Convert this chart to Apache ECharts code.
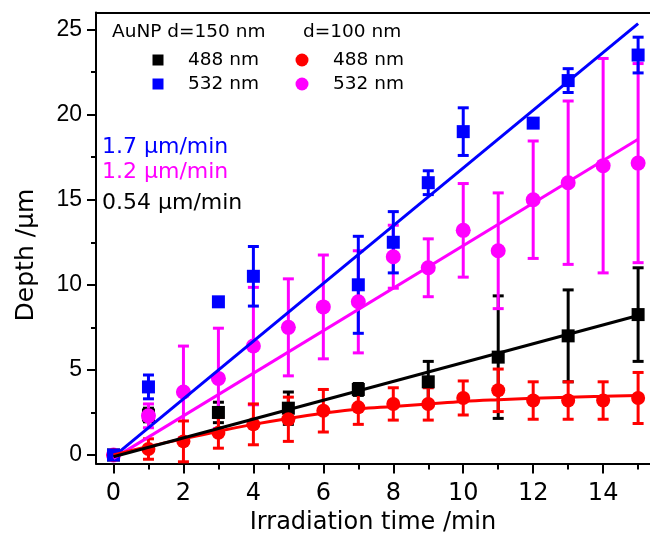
<!DOCTYPE html>
<html>
<head>
<meta charset="utf-8">
<script src="https://cdn.jsdelivr.net/npm/echarts@6/dist/echarts.min.js"></script>
<style>html,body{margin:0;padding:0;background:#fff;}#c{width:650px;height:542px;}</style>
</head>
<body>
<div id="c"></div>
<script>
// ---- data ----
const xTickLabels = [0, 2, 4, 6, 8, 10, 12, 14];
const xMinorTicks = [1, 3, 5, 7, 9, 11, 13, 15];
const yTickLabels = [0, 5, 10, 15, 20, 25];
const yMinorTicks = [2.5, 7.5, 12.5, 17.5, 22.5];

// AuNP d=150 nm, 488 nm (black squares)
const tBlack = [0, 1, 3, 5, 7, 9, 11, 13, 15];
const vBlack = [0, 2.35, 2.5, 2.75, 3.85, 4.3, 5.75, 7.0, 8.25];
const eBlack = [0, 0.4, 0.6, 0.95, 0.35, 1.2, 3.6, 2.7, 2.75];
// AuNP d=150 nm, 532 nm (blue squares)
const tBlue = [0, 1, 3, 4, 7, 8, 9, 10, 12, 13, 15];
const vBlue = [0, 4.0, 9.0, 10.5, 10.0, 12.5, 16.0, 19.0, 19.5, 22.0, 23.5];
const eBlue = [0, 0.7, 0, 1.75, 2.85, 1.8, 0.7, 1.4, 0, 0.7, 1.05];
// d=100 nm, 488 nm (red circles)
const tRed = [0, 1, 2, 3, 4, 5, 6, 7, 8, 9, 10, 11, 12, 13, 14, 15];
const vRed = [0, 0.35, 0.8, 1.3, 1.8, 2.1, 2.6, 2.8, 3.0, 3.0, 3.35, 3.8, 3.2, 3.2, 3.2, 3.35];
const eRed = [0, 0.6, 1.2, 0.9, 1.2, 1.3, 1.25, 1.0, 0.95, 0.95, 1.0, 1.25, 1.1, 1.1, 1.1, 1.5];
// d=100 nm, 532 nm (magenta circles)
const tMag = [0, 1, 2, 3, 4, 5, 6, 7, 8, 9, 10, 11, 12, 13, 14, 15];
const vMag = [0, 2.3, 3.7, 4.5, 6.4, 7.5, 8.7, 9.0, 11.65, 11.0, 13.2, 12.0, 15.0, 16.0, 17.0, 17.15];
const eMag = [0, 0.7, 2.7, 2.95, 3.45, 2.85, 3.05, 3.0, 1.85, 1.7, 2.75, 3.4, 3.45, 4.8, 6.3, 5.85];

// fitted lines (end points / curve points)
const fitBlueT = [0, 15], fitBlueV = [-0.1, 25.35];
const fitMagT = [0, 15], fitMagV = [-0.2, 18.55];
const fitBlackT = [0, 15], fitBlackV = [-0.1, 8.2];
const fitRedT = [0, 1, 2, 3, 4, 5, 6, 7, 8, 9, 10, 11, 12, 13, 14, 15];
const fitRedV = [0, 0.5, 0.95, 1.4, 1.8, 2.15, 2.45, 2.7, 2.85, 3.0, 3.15, 3.25, 3.33, 3.4, 3.45, 3.5];

const rateLabels = ['1.7 μm/min', '1.2 μm/min', '0.54 μm/min'];

// ---- chart ----
const BLACK = '#000000', BLUE = '#0000ff', RED = '#ff0000', MAG = '#ff00ff';
const XMIN = -0.5, XMAX = 15.34, YMIN = -0.5, YMAX = 26;
const zip = (a, b) => a.map((x, i) => [x, b[i]]);
const zip3 = (a, b, c) => a.map((x, i) => [x, b[i], c[i]]);

function errRender(color) {
  return function (params, api) {
    const x = api.value(0), y = api.value(1), e = api.value(2);
    if (!e) return null;
    const top = api.coord([x, y + e]);
    const bot = api.coord([x, y - e]);
    const w = 5.5;
    const st = { stroke: color, lineWidth: 3 };
    return {
      type: 'group',
      children: [
        { type: 'line', shape: { x1: top[0], y1: top[1], x2: bot[0], y2: bot[1] }, style: st },
        { type: 'line', shape: { x1: top[0] - w, y1: top[1], x2: top[0] + w, y2: top[1] }, style: st },
        { type: 'line', shape: { x1: bot[0] - w, y1: bot[1], x2: bot[0] + w, y2: bot[1] }, style: st }
      ]
    };
  };
}
function errSeries(t, v, e, color) {
  return {
    type: 'custom', xAxisIndex: 0, yAxisIndex: 0,
    renderItem: errRender(color), data: zip3(t, v, e),
    encode: { x: 0, y: 1 }, silent: true, clip: false
  };
}
function markSeries(t, v, color, symbol, size) {
  return {
    type: 'scatter', xAxisIndex: 0, yAxisIndex: 0, data: zip(t, v),
    symbol: symbol, symbolSize: size, itemStyle: { color: color, opacity: 1 }, silent: true
  };
}
function fitSeries(t, v, color, smooth) {
  return {
    type: 'line', xAxisIndex: 0, yAxisIndex: 0, data: zip(t, v), smooth: smooth ? 0.4 : false,
    showSymbol: false, symbol: 'none', lineStyle: { color: color, width: 3 }, silent: true
  };
}

const axisLineStyle = { color: '#000', width: 2 };
const gridBox = { left: 96, right: 0, top: 12.5, bottom: 78.5 };

const option = {
  animation: false,
  backgroundColor: '#fff',
  grid: [
    Object.assign({ containLabel: false }, gridBox),
    Object.assign({ containLabel: false }, gridBox)
  ],
  xAxis: [
    {
      gridIndex: 0, type: 'value', min: XMIN, max: XMAX, position: 'bottom',
      axisLine: { show: true, onZero: false, lineStyle: axisLineStyle },
      axisTick: { show: true, inside: false, length: 10, customValues: xTickLabels, lineStyle: { color: '#000', width: 2 } },
      axisLabel: { show: true, customValues: xTickLabels, fontSize: 24, color: '#000', fontFamily: 'DejaVu Sans', margin: 18 },
      splitLine: { show: false },
      name: 'Irradiation time /min', nameLocation: 'middle', nameGap: 47,
      nameTextStyle: { fontSize: 24, color: '#000', fontFamily: 'DejaVu Sans' }
    },
    {
      gridIndex: 0, type: 'value', min: XMIN, max: XMAX, position: 'top',
      axisLine: { show: true, onZero: false, lineStyle: axisLineStyle },
      axisTick: { show: false }, axisLabel: { show: false }, splitLine: { show: false }
    },
    {
      gridIndex: 1, type: 'value', min: XMIN, max: XMAX, position: 'bottom',
      axisLine: { show: false, onZero: false },
      axisTick: { show: true, inside: false, length: 6, customValues: xMinorTicks, lineStyle: { color: '#000', width: 2 } },
      axisLabel: { show: false }, splitLine: { show: false }
    }
  ],
  yAxis: [
    {
      gridIndex: 0, type: 'value', min: YMIN, max: YMAX, position: 'left',
      axisLine: { show: true, onZero: false, lineStyle: axisLineStyle },
      axisTick: { show: true, inside: false, length: 9, customValues: yTickLabels, lineStyle: { color: '#000', width: 2 } },
      axisLabel: { show: true, customValues: yTickLabels, fontSize: 23, color: '#000', fontFamily: 'Liberation Sans', margin: 14 },
      splitLine: { show: false }
    },
    {
      gridIndex: 1, type: 'value', min: YMIN, max: YMAX, position: 'left',
      axisLine: { show: false, onZero: false },
      axisTick: { show: true, inside: false, length: 5, customValues: yMinorTicks, lineStyle: { color: '#000', width: 2 } },
      axisLabel: { show: false }, splitLine: { show: false }
    }
  ],
  series: [
    errSeries(tBlack, vBlack, eBlack, BLACK),
    markSeries(tBlack, vBlack, BLACK, 'rect', 13),
    errSeries(tMag, vMag, eMag, MAG),
    markSeries(tMag, vMag, MAG, 'circle', 15),
    errSeries(tRed, vRed, eRed, RED),
    markSeries(tRed, vRed, RED, 'circle', 14),
    errSeries(tBlue, vBlue, eBlue, BLUE),
    markSeries(tBlue, vBlue, BLUE, 'rect', 13),
    fitSeries(fitMagT, fitMagV, MAG, false),
    fitSeries(fitBlueT, fitBlueV, BLUE, false),
    fitSeries(fitRedT, fitRedV, RED, true),
    fitSeries(fitBlackT, fitBlackV, BLACK, false)
  ],
  graphic: [
    { type: 'text', x: 26, y: 255, rotation: Math.PI / 2,
      style: { text: 'Depth /μm', fill: '#000', font: '25px "DejaVu Sans"', align: 'center', verticalAlign: 'middle', textAlign: 'center', textVerticalAlign: 'middle' } },
    { type: 'text', left: 112, top: 23, style: { text: 'AuNP d=150 nm', fill: '#000', font: '18.5px "DejaVu Sans"' } },
    { type: 'text', left: 303, top: 23, style: { text: 'd=100 nm', fill: '#000', font: '18.5px "DejaVu Sans"' } },
    { type: 'rect', shape: { x: 152.5, y: 54.5, width: 11, height: 11 }, style: { fill: BLACK } },
    { type: 'rect', shape: { x: 152.5, y: 78.5, width: 11, height: 11 }, style: { fill: BLUE } },
    { type: 'circle', shape: { cx: 302, cy: 60, r: 6.5 }, style: { fill: RED } },
    { type: 'circle', shape: { cx: 302, cy: 84, r: 6.5 }, style: { fill: MAG } },
    { type: 'text', left: 188, top: 51, style: { text: '488 nm', fill: '#000', font: '18.5px "DejaVu Sans"' } },
    { type: 'text', left: 188, top: 75, style: { text: '532 nm', fill: '#000', font: '18.5px "DejaVu Sans"' } },
    { type: 'text', left: 333, top: 51, style: { text: '488 nm', fill: '#000', font: '18.5px "DejaVu Sans"' } },
    { type: 'text', left: 333, top: 75, style: { text: '532 nm', fill: '#000', font: '18.5px "DejaVu Sans"' } },
    { type: 'text', left: 102, top: 136, style: { text: rateLabels[0], fill: BLUE, font: '22px "DejaVu Sans"' } },
    { type: 'text', left: 102, top: 161, style: { text: rateLabels[1], fill: MAG, font: '22px "DejaVu Sans"' } },
    { type: 'text', left: 102, top: 192, style: { text: rateLabels[2], fill: BLACK, font: '22px "DejaVu Sans"' } }
  ]
};

const chart = echarts.init(document.getElementById('c'), null, { renderer: 'canvas', width: 650, height: 542 });
chart.setOption(option);
</script>
</body>
</html>
